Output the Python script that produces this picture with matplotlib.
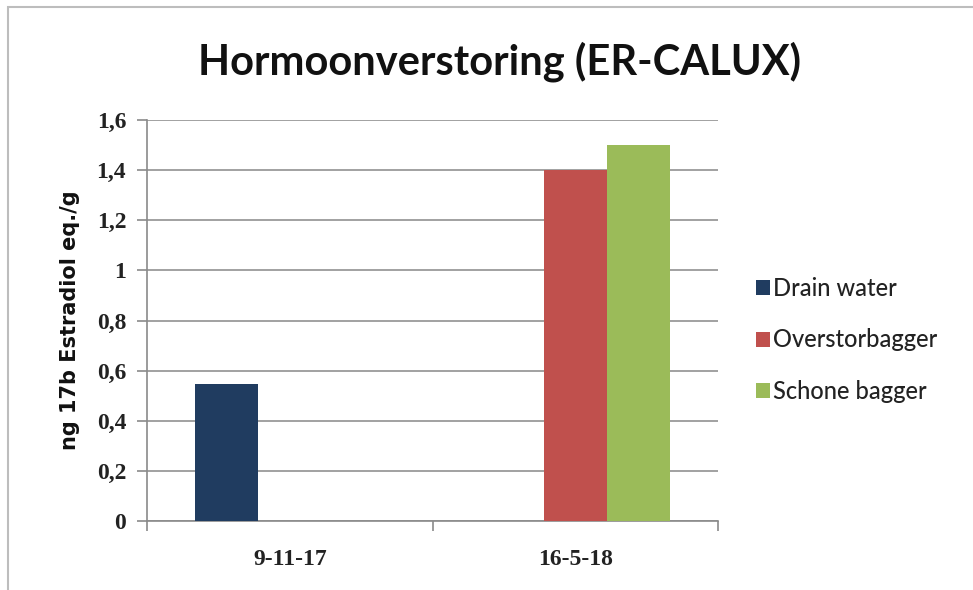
import numpy as np
import matplotlib.pyplot as plt
from matplotlib.patches import Rectangle, Patch

# data
categories = ["9-11-17", "16-5-18"]
series_names = ["Drain water", "Overstorbagger", "Schone bagger"]
drain_water = [0.545, np.nan]
overstorbagger = [np.nan, 1.40]
schone_bagger = [np.nan, 1.50]
y_ticks = [0, 0.2, 0.4, 0.6, 0.8, 1.0, 1.2, 1.4, 1.6]
y_tick_labels = ["0", "0,2", "0,4", "0,6", "0,8", "1", "1,2", "1,4", "1,6"]

colors = ["#203C60", "#C0504D", "#9BBB59"]

fig = plt.figure(figsize=(9.73, 5.9), dpi=100)
fig.patch.set_facecolor("white")

# outer chart frame (only top/left visible in the crop)
frame = Rectangle((8 / 973, -0.1), 1.2, 1.1 - 7 / 590, transform=fig.transFigure,
                  fill=False, edgecolor="#BDBDBD", linewidth=1.5, zorder=0)
fig.patches.append(frame)

ax = fig.add_axes([147 / 973, 69 / 590, (718 - 147) / 973, (521 - 120) / 590])

x = np.arange(len(categories))
w = 1 / 4.5
all_series = [drain_water, overstorbagger, schone_bagger]
for i, vals in enumerate(all_series):
    ax.bar(x + (i - 1) * w, vals, width=w, color=colors[i], zorder=3)

ax.set_xlim(-0.5, 1.5)
ax.set_ylim(0, 1.6)
ax.set_yticks(y_ticks)
ax.set_yticklabels(y_tick_labels, fontfamily="Liberation Serif", fontweight="bold",
                   fontsize=17, color="#222222")
ax.yaxis.grid(True, color="#9A9A9A", linewidth=1.3, zorder=0)

# x ticks at category boundaries, labels at centres
ax.set_xticks([-0.5, 0.5, 1.5])
ax.set_xticklabels([])
ax.set_xticks(x, minor=True)
ax.set_xticklabels(categories, minor=True, fontfamily="Liberation Serif",
                   fontweight="bold", fontsize=17, color="#222222")
ax.tick_params(axis="x", which="major", length=7, color="#8A8A8A", width=1.2)
ax.tick_params(axis="x", which="minor", length=0, pad=20)
ax.tick_params(axis="y", length=7, color="#8A8A8A", width=1.2, pad=8)

for s in ["top", "right"]:
    ax.spines[s].set_visible(False)
for s in ["left", "bottom"]:
    ax.spines[s].set_color("#8A8A8A")
    ax.spines[s].set_linewidth(1.2)

ax.set_ylabel("ng 17b Estradiol eq./g", fontsize=15, fontweight="bold",
              fontfamily="DejaVu Sans", color="#111111", labelpad=12)

fig.text(500 / 973, 1 - 62 / 590, "Hormoonverstoring (ER-CALUX)", ha="center", va="center",
         fontsize=30, fontfamily="Lato", fontweight="bold", color="#111111")

handles = [Patch(facecolor=c, edgecolor="none") for c in colors]
fig.legend(handles, series_names, loc="center left",
           bbox_to_anchor=(735 / 973, 1 - 340 / 590), frameon=False,
           prop={"family": "Lato", "size": 17, "weight": "medium"},
           handlelength=0.6, handleheight=0.6,
           handletextpad=0.1, labelspacing=1.2, labelcolor="#222222")

fig.savefig("out.png", dpi=100)
